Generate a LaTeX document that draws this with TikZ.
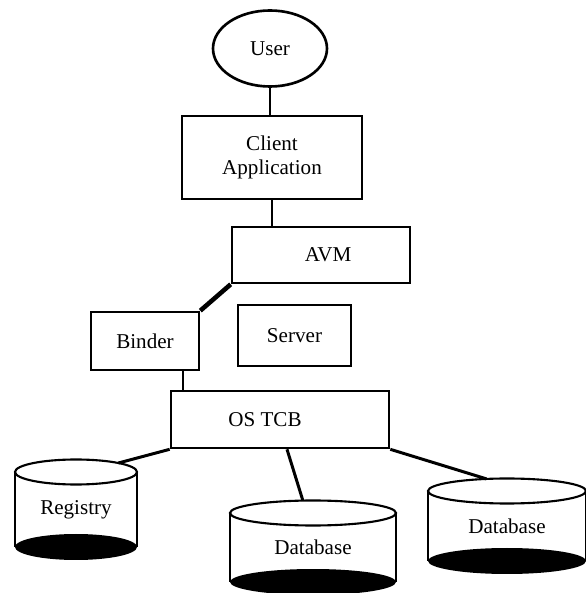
\documentclass[tikz,border=0pt]{standalone}
\usepackage{fontspec}
\setmainfont{Liberation Serif}
\usetikzlibrary{shapes.geometric,calc}

\tikzstyle{component}=[draw,line width=1.5pt,inner sep=0pt,align=center]
\tikzstyle{actor}=[draw,ellipse,line width=1.5pt,inner sep=0pt,
    minimum width=2.28cm,minimum height=1.52cm]
\tikzstyle{link}=[line width=1.3pt]
\tikzstyle{heavy link}=[line width=2.6pt]
\tikzstyle{store link}=[line width=1.7pt]
\tikzstyle{store border}=[line width=1.2pt]
\tikzstyle{store bottom}=[fill=black]
\newcommand{\compbox}[5]{
    \node[component,minimum width=#3cm,minimum height=#4cm] at (#1) (#2) {#5};
}
\newcommand{\store}[6][90]{
    \fill[store bottom] (#2) ++(0,-#4) ellipse (#3 and 0.26);
    \draw[store border] (#2) ++(-#3,0) -- ++(0,-#4) 
        (#2) ++(#3,0) -- ++(0,-#4);
    \draw[store border,fill=white] (#2) ellipse (#3 and 0.25);
    \path (#2) ++(0,-#4/2) node (#5) {#6};
    \path (#2) ++(#1:#3 and 0.25) coordinate (#5 top);
}

\begin{document}
\begin{tikzpicture}[font=\fontsize{12}{13.5}\selectfont]
    \useasboundingbox (0,0) rectangle (11.72,11.86);
    \node[actor] at (5.40,10.89) (user) {User};
    \compbox{5.44,8.71}{client}{3.60}{1.66}{Client\\Application}
    \compbox{6.42,6.76}{avm}{3.56}{1.12}{\hspace*{0.28cm}AVM}
    \compbox{2.90,5.04}{binder}{2.16}{1.16}{Binder}
    \compbox{5.89,5.15}{server}{2.26}{1.22}{Server}
    \compbox{5.60,3.47}{os}{4.36}{1.14}{OS TCB\hspace*{0.6cm}}
    %
    \store[46]{1.52,2.42}{1.22}{1.50}{registry}{Registry}
    \store[97]{6.26,1.60}{1.66}{1.38}{dbmiddle}{Database}
    \store[105]{10.14,2.04}{1.58}{1.40}{dbright}{Database}
    %
    \coordinate (binder out) at ([xshift=-0.34cm]binder.south east);
    \coordinate (os out) at ([xshift=0.14cm]os.south);
    %
    \draw[link] (user.south) -- (user.south |- client.north);
    \draw[link] (client.south) -- (client.south |- avm.north);
    \draw[heavy link] (avm.south west) -- (binder.north east);
    \draw[link] (binder out) -- (binder out |- os.north);
    \draw[store link] (os.south west) -- (registry top);
    \draw[store link] (os out) -- (dbmiddle top);
    \draw[store link] (os.south east) -- (dbright top);
\end{tikzpicture}
\end{document}
